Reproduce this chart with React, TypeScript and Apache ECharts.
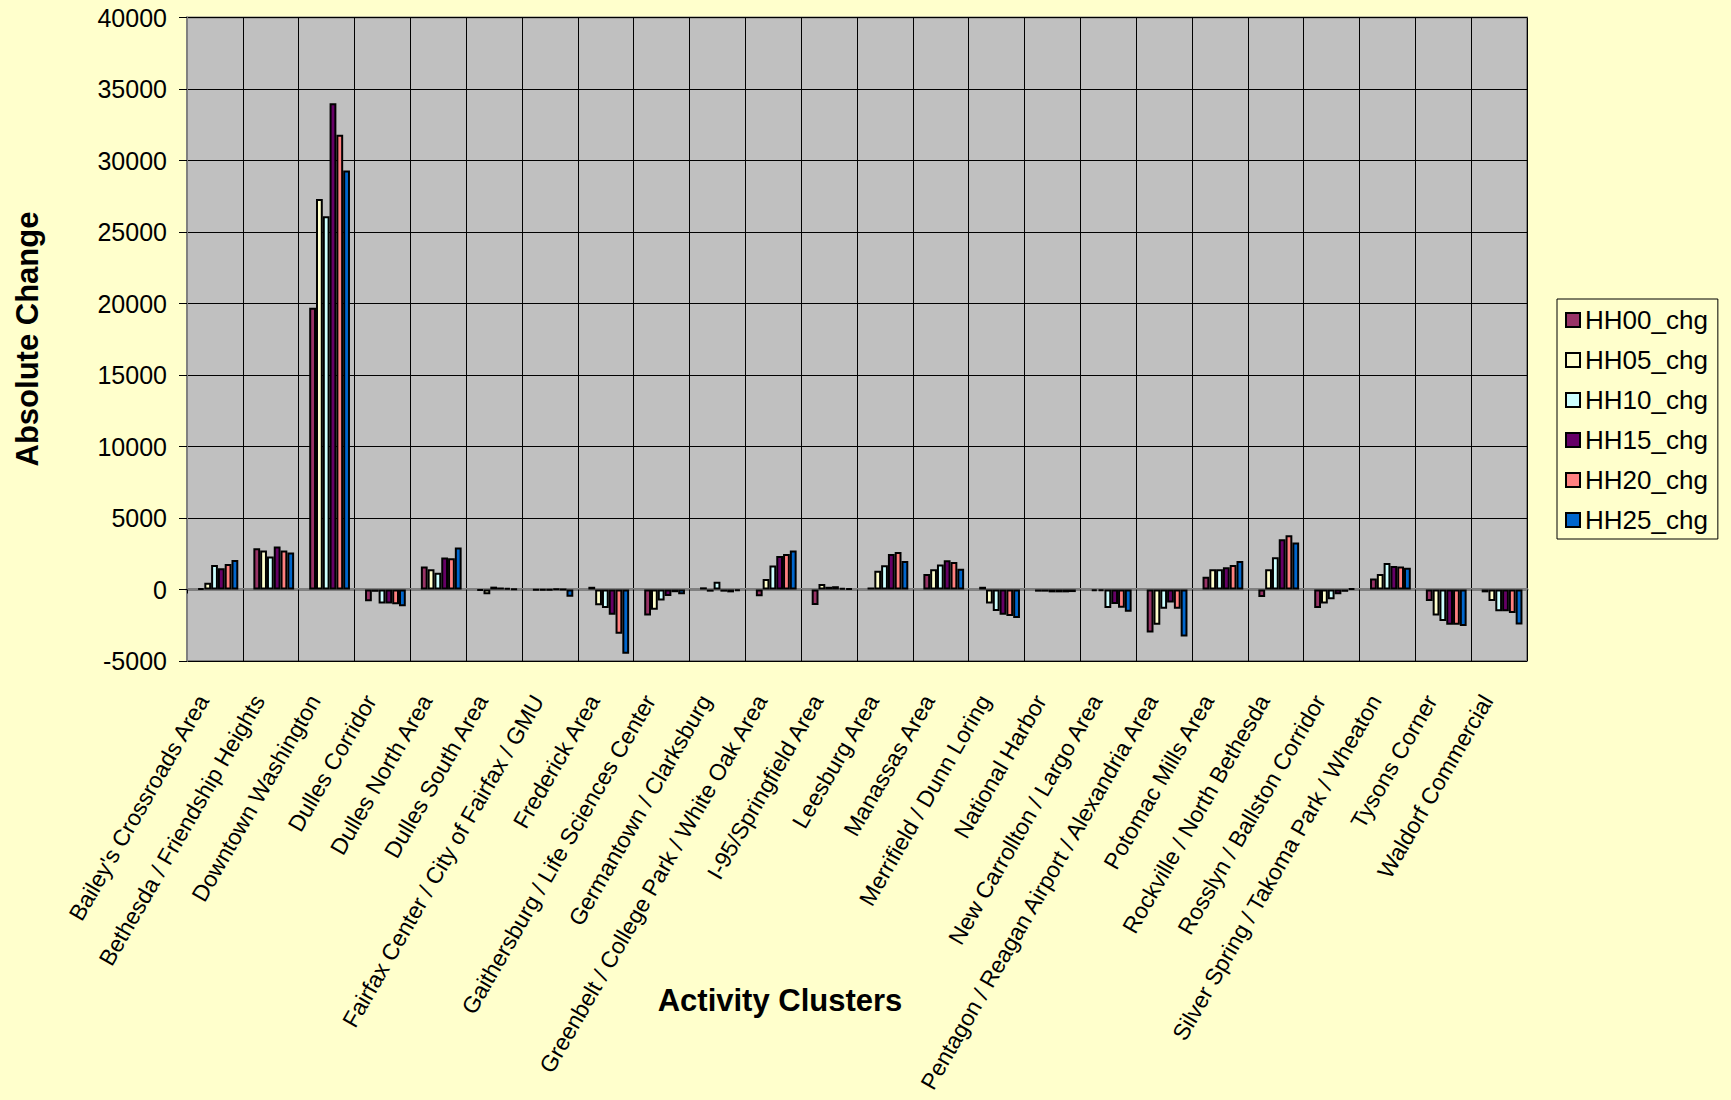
import React, { useEffect, useRef } from "react";
import * as echarts from "echarts";

const categories = [
  "Bailey's Crossroads Area",
  "Bethesda / Friendship Heights",
  "Downtown Washington",
  "Dulles Corridor",
  "Dulles North Area",
  "Dulles South Area",
  "Fairfax Center / City of Fairfax / GMU",
  "Frederick Area",
  "Gaithersburg / Life Sciences Center",
  "Germantown / Clarksburg",
  "Greenbelt / College Park / White Oak Area",
  "I-95/Springfield Area",
  "Leesburg Area",
  "Manassas Area",
  "Merrifield / Dunn Loring",
  "National Harbor",
  "New Carrollton / Largo Area",
  "Pentagon / Reagan Airport / Alexandria Area",
  "Potomac Mills Area",
  "Rockville / North Bethesda",
  "Rosslyn / Ballston Corridor",
  "Silver Spring / Takoma Park / Wheaton",
  "Tysons Corner",
  "Waldorf Commercial",
];

const seriesNames = ["HH00_chg", "HH05_chg", "HH10_chg", "HH15_chg", "HH20_chg", "HH25_chg"];

const hh00 = [80, 2880, 19700, -830, 1600, -70, -50, 190, -1810, 150, -480, -1080, 140, 1080, 190, -150, -120, -3000, 890, -520, -1290, 775, -800, -200];
const hh05 = [470, 2720, 27300, -160, 1410, -330, -50, -1100, -1420, -150, 740, 390, 1310, 1410, -985, -150, -120, -2460, 1410, 1410, -985, 1080, -1810, -800];
const hh10 = [1710, 2300, 26100, -985, 1170, 200, -30, -1290, -770, 540, 1670, 190, 1690, 1740, -1500, -200, -1300, -1340, 1410, 2250, -680, 1850, -2200, -1525];
const hh15 = [1480, 3000, 34000, -985, 2230, 140, 40, -1760, -460, -150, 2350, 230, 2490, 2040, -1760, -200, -1020, -915, 1550, 3520, -330, 1640, -2460, -1525];
const hh20 = [1780, 2720, 31800, -1030, 2180, 100, 0, -3100, -190, -200, 2490, 100, 2630, 1925, -1855, -200, -1270, -1340, 1710, 3800, -160, 1600, -2460, -1640];
const hh25 = [2060, 2580, 29300, -1170, 2930, 50, -510, -4500, -330, -120, 2720, 60, 2000, 1455, -2000, -180, -1560, -3290, 2000, 3290, 70, 1525, -2560, -2440];

const seriesValues = [hh00, hh05, hh10, hh15, hh20, hh25];
const seriesColors = ["#993366", "#FFFFCC", "#CCFFFF", "#660066", "#FF8080", "#0066CC"];

const yTicks = { min: -5000, max: 40000, interval: 5000 };

const FONT = "'Liberation Sans', Arial, sans-serif";

export default function App() {
  const ref = useRef<HTMLDivElement>(null);

  useEffect(() => {
    document.body.style.margin = "0";
    if (!ref.current) return;
    const chart = echarts.init(ref.current, undefined, { renderer: "svg" });

    const plotLeft = 187;
    const plotTop = 17.5;
    const plotWidth = 1340;
    const plotHeight = 643.5;

    const option: any = {
      animation: false,
      backgroundColor: "#FFFFCC",
      textStyle: { fontFamily: FONT },
      grid: [
        {
          left: plotLeft,
          top: plotTop,
          width: plotWidth,
          height: plotHeight,
          show: true,
          backgroundColor: "#C0C0C0",
          borderColor: "#808080",
          borderWidth: 2,
        },
        {
          left: plotLeft + 3,
          top: plotTop,
          width: plotWidth,
          height: plotHeight,
        },
      ],
      xAxis: [
        {
          type: "category",
          gridIndex: 0,
          data: categories,
          boundaryGap: true,
          axisLine: { show: true, lineStyle: { color: "#808080", width: 3 } },
          axisTick: { show: true, length: 4, lineStyle: { color: "#000" }, interval: 0 },
          splitLine: { show: true, interval: 0, lineStyle: { color: "#000", width: 1 } },
          axisLabel: {
            interval: 0,
            rotate: 60,
            fontSize: 23,
            color: "#000",
            fontFamily: FONT,
            margin: 15,
            padding: [0, 24, 0, 0],
          },
        },
        {
          type: "category",
          gridIndex: 1,
          data: categories,
          show: false,
        },
      ],
      yAxis: [
        {
          type: "value",
          gridIndex: 0,
          min: yTicks.min,
          max: yTicks.max,
          interval: yTicks.interval,
          axisLine: { show: true, lineStyle: { color: "#808080", width: 2 } },
          axisTick: { show: true, length: 8, lineStyle: { color: "#000" } },
          splitLine: { show: true, lineStyle: { color: "#000", width: 1 } },
          axisLabel: {
            fontSize: 25,
            color: "#000",
            fontFamily: FONT,
            margin: 20,
            formatter: (v: number) => String(v),
          },
        },
        {
          type: "value",
          gridIndex: 1,
          min: yTicks.min,
          max: yTicks.max,
          interval: yTicks.interval,
          show: false,
        },
      ],
      legend: {
        orient: "vertical",
        left: 1557,
        top: 299,
        padding: [8, 10, 6, 8],
        backgroundColor: "#FFFFCC",
        borderColor: "#000",
        borderWidth: 1,
        borderRadius: 0,
        itemWidth: 14,
        itemHeight: 14,
        itemGap: 14,
        icon: "rect",
        textStyle: { fontSize: 26, color: "#000", fontFamily: FONT, lineHeight: 25.5 },
        data: seriesNames,
      },
      graphic: [
        {
          type: "text",
          x: 27,
          y: 339,
          rotation: Math.PI / 2,
          style: {
            text: "Absolute Change",
            font: `bold 31px ${FONT}`,
            fill: "#000",
            align: "center",
            verticalAlign: "middle",
          },
        },
        {
          type: "text",
          x: 780,
          y: 1000,
          style: {
            text: "Activity Clusters",
            font: `bold 31px ${FONT}`,
            fill: "#000",
            align: "center",
            verticalAlign: "middle",
          },
        },
      ],
      series: seriesNames.map((name, i) => ({
        name,
        type: "bar",
        xAxisIndex: 1,
        yAxisIndex: 1,
        data: seriesValues[i],
        barGap: "0%",
        barCategoryGap: "27%",
        itemStyle: { color: seriesColors[i], borderColor: "#000", borderWidth: 2 },
      })),
    };

    chart.setOption(option);
    return () => chart.dispose();
  }, []);

  return <div ref={ref} style={{ width: 1731, height: 1100, background: "#FFFFCC" }} />;
}
